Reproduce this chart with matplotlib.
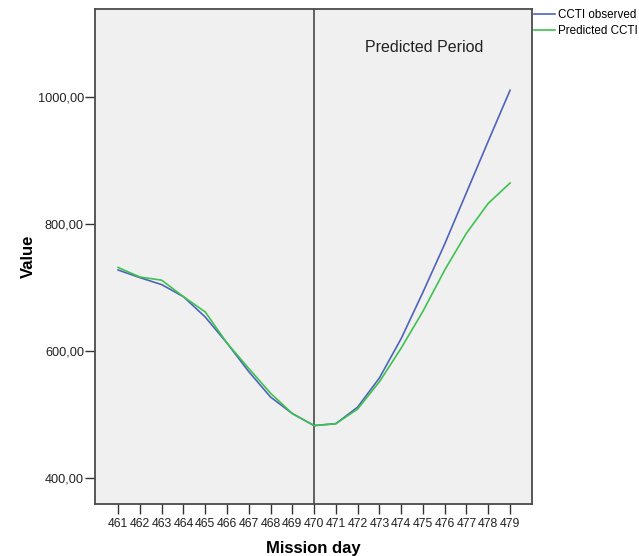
import numpy as np
import matplotlib.pyplot as plt

plt.rcParams['font.family'] = ['Liberation Sans', 'DejaVu Sans']

# mission days and series values
days = [461, 462, 463, 464, 465, 466, 467, 468, 469, 470,
        471, 472, 473, 474, 475, 476, 477, 478, 479]
observed = [728, 716, 705, 686, 654, 613, 568, 528, 502, 483,
            486, 512, 558, 620, 693, 769, 850, 931, 1011]
predicted = [732, 717, 712, 686, 662, 613, 573, 534, 502, 483,
             486, 509, 552, 605, 663, 728, 786, 833, 865]
y_ticks = [400, 600, 800, 1000]
split_day = 470

fig = plt.figure(figsize=(6.39, 5.56), dpi=100)
ax = fig.add_axes([0.1487, 0.0935, 0.6839, 0.8903])
ax.set_facecolor('#f0f0f0')

ax.plot(days, observed, color='#4f63bb', lw=1.2, label='CCTI observed', zorder=3)
ax.plot(days, predicted, color='#3ec24e', lw=1.2, label='Predicted CCTI', zorder=3)
ax.axvline(split_day, color='#4a4a4a', lw=1.2, zorder=2)

ax.text(475.05, 1078, 'Predicted Period', fontsize=11.5, ha='center', va='center', color='#222222')

ax.set_xlim(459.94, 480.01)
ax.set_ylim(359.5, 1139)
ax.set_xticks(days)
ax.set_xticklabels([str(d) for d in days], fontsize=8.8, color='#222222')
ax.set_yticks(y_ticks)
ax.set_yticklabels([f'{v},00' for v in y_ticks], fontsize=9.2, color='#222222')
ax.tick_params(axis='x', length=7, width=1, color='#333333', pad=3)
ax.tick_params(axis='y', length=7, width=1, color='#333333', pad=1)

for s in ax.spines.values():
    s.set_color('#4a4a4a')
    s.set_linewidth(1.3)

ax.set_xlabel('Mission day', fontsize=12, fontweight='bold', labelpad=8)
ax.set_ylabel('Value', fontsize=12, fontweight='bold', labelpad=1)

ax.legend(loc='upper left', bbox_to_anchor=(1.004, 1.0), frameon=False, fontsize=8.4,
          handlelength=1.8, handletextpad=0.25, borderaxespad=0.0, borderpad=0.0,
          labelspacing=0.35)

fig.savefig('out.png', dpi=100)
